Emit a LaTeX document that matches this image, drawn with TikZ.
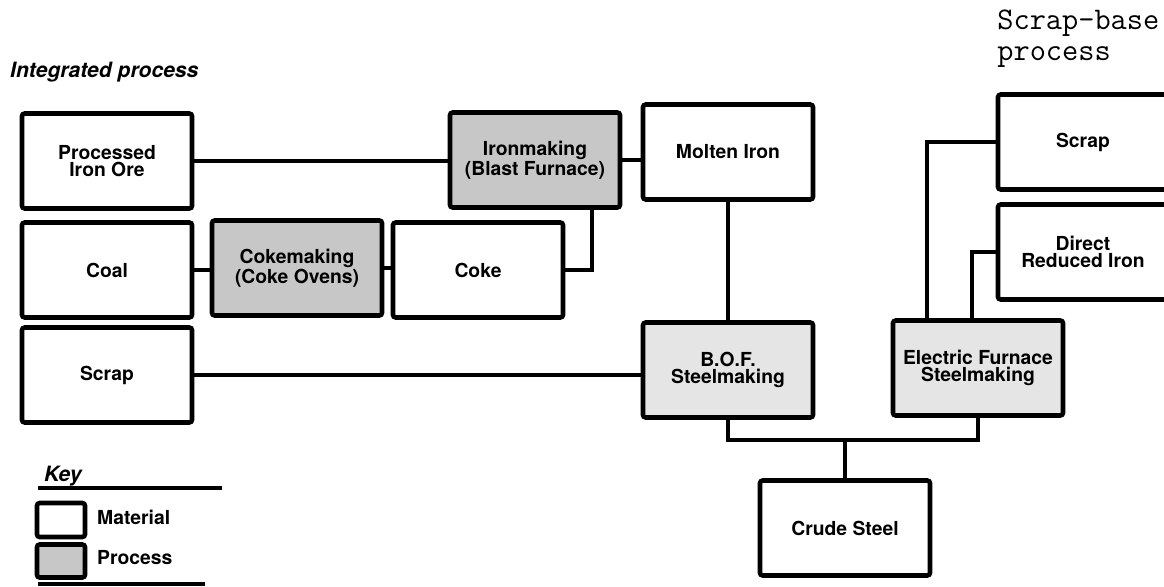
\documentclass[tikz,border=0pt]{standalone}
\usepackage{fontspec}
\setmainfont{TeX Gyre Heros}
\usepackage{tikz}
\usetikzlibrary{calc}

\begin{document}
\begin{tikzpicture}[x=0.02cm,y=-0.02cm,
  box/.style={draw,line width=2.6pt,rounded corners=1.5pt,minimum width=3.4cm,
    minimum height=1.9cm,align=center,inner sep=2pt,
    font=\bfseries\fontsize{11}{9.5}\selectfont},
  material/.style={box,fill=white},
  process/.style={box,fill=black!22},
  link/.style={line width=2.1pt},
  heading/.style={font=\bfseries\itshape\fontsize{12}{14}\selectfont,anchor=west},
  keytext/.style={font=\bfseries\fontsize{11}{13}\selectfont,anchor=west}]
  \clip (0,0) rectangle (1164,586);
  \node[heading] (ttlint) at (4,72) {Integrated process};
  \node[font=\ttfamily\fontsize{17.9}{17.6}\selectfont,anchor=north west,
    align=left,inner sep=0pt] (ttlscr) at (997,10) {Scrap-base\\process};

  % materials and processes
  \node[material] (ore) at (107,161) {Processed\\Iron Ore};
  \node[process] (iron) at (535,160) {Ironmaking\\(Blast Furnace)};
  \node[material] (molten) at (728,152) {Molten Iron};
  \node[material] (coal) at (107,270) {Coal};
  \node[process] (cokemk) at (297,268) {Cokemaking\\(Coke Ovens)};
  \node[material] (coke) at (478,270) {Coke};
  \node[material] (scrapint) at (107,375) {Scrap};
  \node[process,fill=black!10] (bof) at (728,370) {B.O.F.\\Steelmaking};
  \node[process,fill=black!10] (eaf) at (978,368) {Electric Furnace\\Steelmaking};
  \node[material] (scrapeaf) at (1083,142) {Scrap};
  \node[material] (dri) at (1083,252) {Direct\\Reduced Iron};
  \node[material] (crude) at (845,528) {Crude Steel};

  % flows
  \draw[link] (ore.east) -- (ore.east -| iron.west);
  \draw[link] (iron.east) -- (iron.east -| molten.west);
  \draw[link] (coal.east) -- (coal.east -| cokemk.west);
  \draw[link] (cokemk.east) -- (cokemk.east -| coke.west);
  \draw[link] (coke.east) -| ([xshift=-0.6cm]iron.south east);
  \draw[link] (molten.south) -- (bof.north);
  \draw[link] (scrapint.east) -- (scrapint.east -| bof.west);
  \coordinate (join) at ($(crude.north)+(0,-38)$);
  \draw[link] (bof.south) |- (join) -| (eaf.south);
  \draw[link] (join) -- (crude.north);
  \draw[link] (scrapeaf.west) -| ([xshift=0.72cm]eaf.north west);
  \draw[link] (dri.west) -| ([xshift=-0.12cm]eaf.north);

  % key
  \node[heading] (keyttl) at (38,476) {Key};
  \coordinate (keyl) at (38,488);
  \coordinate (keyr) at (222,488);
  \draw[link] (keyl) -- (keyr);
  \node[material,minimum width=0.96cm,minimum height=0.68cm] (keymat) at (61,520) {};
  \node[process,minimum width=0.96cm,minimum height=0.66cm] (keyproc) at (61,561) {};
  \node[keytext] (keymattxt) at (91,517) {Material};
  \node[keytext] (keyproctxt) at (91,558) {Process};
  \coordinate (keybl) at (38,584);
  \coordinate (keybr) at (205,584);
  \draw[link] (keybl) -- (keybr);
\end{tikzpicture}
\end{document}
